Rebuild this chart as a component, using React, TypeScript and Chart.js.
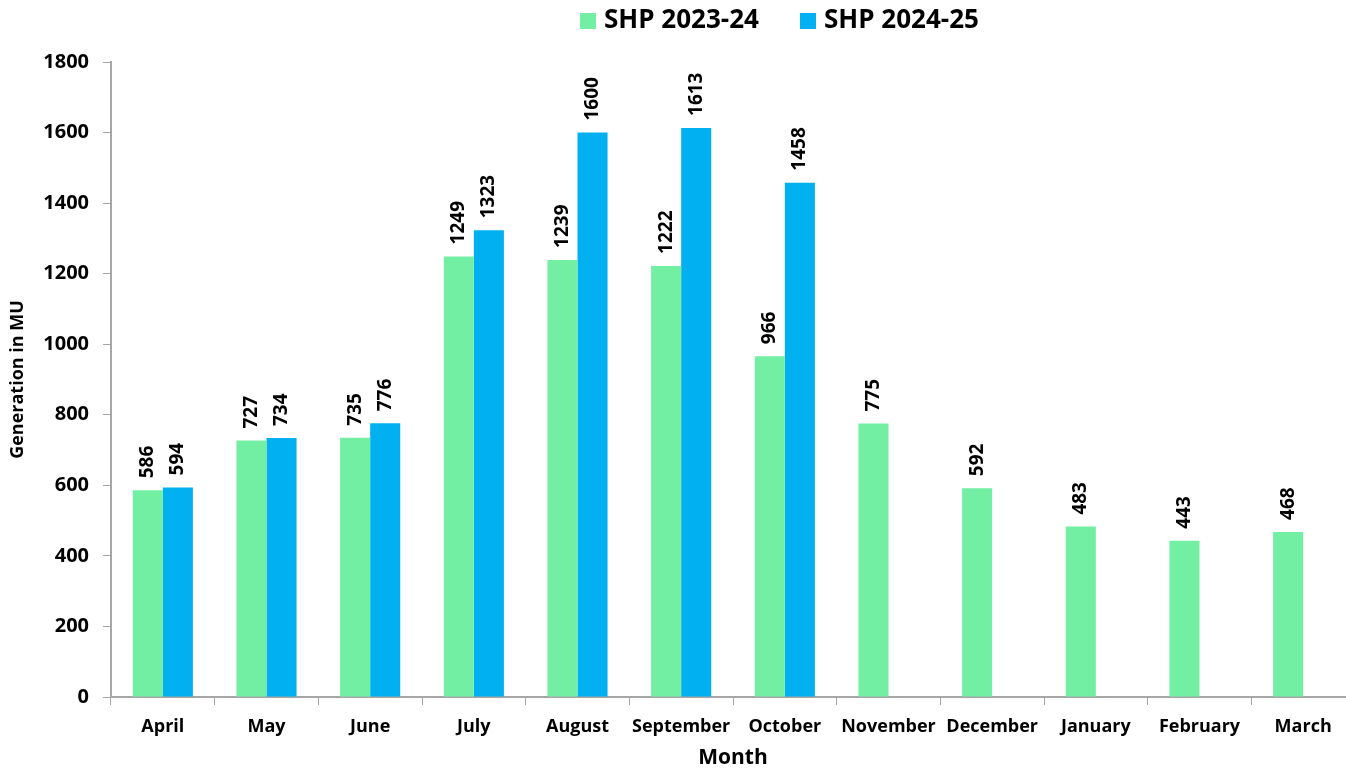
import React, { useEffect, useRef } from "react";
import { Chart, registerables } from "chart.js";

Chart.register(...registerables);

const months = ["April", "May", "June", "July", "August", "September", "October", "November", "December", "January", "February", "March"];
const shp2324 = [586, 727, 735, 1249, 1239, 1222, 966, 775, 592, 483, 443, 468];
const shp2425: (number | null)[] = [594, 734, 776, 1323, 1600, 1613, 1458, null, null, null, null, null];
const yTicks = [0, 200, 400, 600, 800, 1000, 1200, 1400, 1600, 1800];
const seriesNames = ["SHP 2023-24", "SHP 2024-25"];
const seriesColors = ["#72efa3", "#00b0f0"];

const FONT = "'Open Sans', 'DejaVu Sans', sans-serif";
const AXIS_GRAY = "#a6a6a6";

const labelPlugin = {
  id: "barValueLabels",
  afterDatasetsDraw(chart: any) {
    const ctx = chart.ctx;
    ctx.save();
    ctx.fillStyle = "#000";
    ctx.font = `bold 19px ${FONT}`;
    ctx.textAlign = "left";
    ctx.textBaseline = "middle";
    chart.data.datasets.forEach((ds: any, di: number) => {
      const meta = chart.getDatasetMeta(di);
      meta.data.forEach((el: any, i: number) => {
        const v = ds.data[i];
        if (v === null || v === undefined) return;
        ctx.save();
        ctx.translate(el.x, el.y - 12);
        ctx.rotate(-Math.PI / 2);
        ctx.fillText(String(v), 0, 0);
        ctx.restore();
      });
    });
    ctx.restore();
  },
};

// Legend drawn manually, offset like the original (centred over the right part)
const legendPlugin = {
  id: "customLegend",
  afterDraw(chart: any) {
    const ctx = chart.ctx;
    ctx.save();
    ctx.font = `bold 26px ${FONT}`;
    ctx.textBaseline = "middle";
    ctx.textAlign = "left";
    const starts = [580, 800];
    chart.data.datasets.forEach((ds: any, i: number) => {
      const x = starts[i];
      ctx.fillStyle = ds.backgroundColor;
      ctx.fillRect(x, 13, 16, 16);
      ctx.fillStyle = "#000";
      ctx.fillText(ds.label, x + 24, 21);
    });
    ctx.restore();
  },
};

export default function App() {
  const ref = useRef<HTMLCanvasElement | null>(null);
  useEffect(() => {
    if (!ref.current) return;
    const chart = new Chart(ref.current, {
      type: "bar",
      data: {
        labels: months,
        datasets: [
          { label: seriesNames[0], data: shp2324, backgroundColor: seriesColors[0], borderWidth: 0 },
          { label: seriesNames[1], data: shp2425, backgroundColor: seriesColors[1], borderWidth: 0 },
        ],
      },
      options: {
        responsive: false,
        animation: false,
        devicePixelRatio: 1,
        layout: { padding: { left: 0, right: 5, top: 62, bottom: 0 } },
        datasets: { bar: { categoryPercentage: 0.58, barPercentage: 1.0 } },
        plugins: {
          legend: { display: false },
          tooltip: { enabled: false },
        },
        scales: {
          x: {
            grid: {
              display: true,
              drawOnChartArea: false,
              drawTicks: true,
              tickLength: 8,
              color: AXIS_GRAY,
              offset: true,
            },
            border: { display: true, color: AXIS_GRAY, width: 2 },
            ticks: {
              color: "#000",
              font: { family: FONT, size: 18, weight: "bold" },
              padding: 11,
              maxRotation: 0,
              autoSkip: false,
            },
            title: {
              display: true,
              text: "Month",
              color: "#000",
              font: { family: FONT, size: 21, weight: "bold", lineHeight: 1 },
              padding: { top: 0, bottom: 0 },
            },
            afterFit(scale: any) {
              scale.height = 72;
            },
          },
          y: {
            min: 0,
            max: 1800,
            afterBuildTicks(scale: any) {
              scale.ticks = yTicks.map((v) => ({ value: v }));
            },
            grid: {
              display: true,
              drawOnChartArea: false,
              drawTicks: true,
              tickLength: 8,
              color: AXIS_GRAY,
            },
            border: { display: true, color: AXIS_GRAY, width: 2 },
            ticks: {
              color: "#000",
              font: { family: FONT, size: 20, weight: "bold" },
              padding: 14,
              callback: (v: any) => String(v),
            },
            title: {
              display: true,
              text: "Generation in MU",
              color: "#000",
              font: { family: FONT, size: 18, weight: "bold" },
              padding: { top: 7, bottom: 0 },
            },
            afterFit(scale: any) {
              scale.width = 111;
            },
          },
        },
      },
      plugins: [labelPlugin, legendPlugin],
    });
    return () => chart.destroy();
  }, []);
  return (
    <div style={{ position: "absolute", left: 0, top: 0, width: 1346, height: 769, overflow: "hidden", background: "#fff" }}>
      <canvas ref={ref} width={1360} height={769} style={{ display: "block" }} />
    </div>
  );
}
